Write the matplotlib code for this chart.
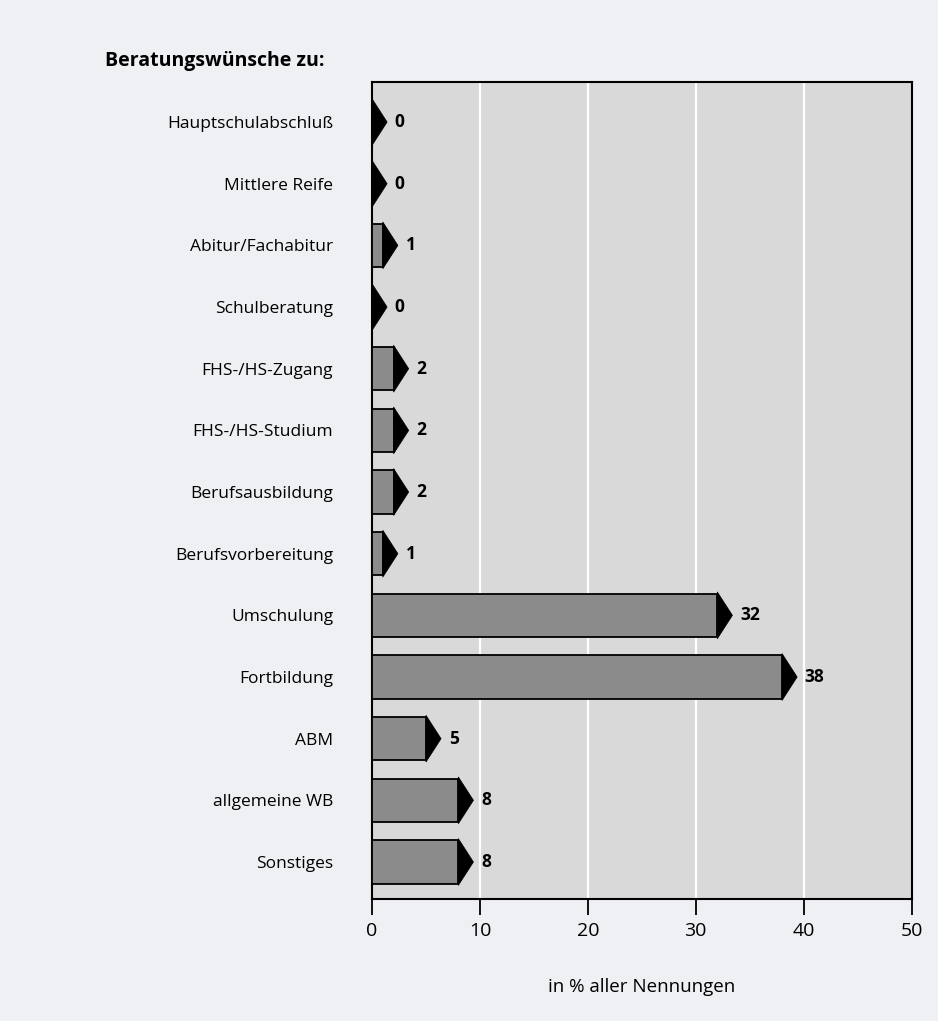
import matplotlib
matplotlib.use("Agg")
import matplotlib.pyplot as plt
from matplotlib.patches import Polygon

plt.rcParams["font.family"] = ["Open Sans", "DejaVu Sans"]

# Daten
kategorien = [
    "Hauptschulabschluß",
    "Mittlere Reife",
    "Abitur/Fachabitur",
    "Schulberatung",
    "FHS-/HS-Zugang",
    "FHS-/HS-Studium",
    "Berufsausbildung",
    "Berufsvorbereitung",
    "Umschulung",
    "Fortbildung",
    "ABM",
    "allgemeine WB",
    "Sonstiges",
]
werte = [0, 0, 1, 0, 2, 2, 2, 1, 32, 38, 5, 8, 8]
x_ticks = [0, 10, 20, 30, 40, 50]

fig = plt.figure(figsize=(9.38, 10.21), dpi=100)
fig.patch.set_facecolor("#eef0f4")

ax = fig.add_axes([0.3966, 0.1195, 0.5752, 0.8002])
ax.set_facecolor("#d9d9d9")

pos = list(range(len(kategorien)))
bar_h = 0.70
head_h = 0.76
head_len = 1.4

# Balken
ax.barh(pos, werte, height=bar_h, color="#8b8b8b", edgecolor="black",
        linewidth=1.3, zorder=3)

# Pfeilspitzen + Werte
for i, v in zip(pos, werte):
    tri = Polygon([(v, i - head_h / 2), (v + head_len, i), (v, i + head_h / 2)],
                  closed=True, facecolor="black", edgecolor="black",
                  linewidth=0.5, zorder=4)
    ax.add_patch(tri)
    ax.text(v + 2.1, i, str(v), va="center", ha="left", fontsize=12.5,
            fontweight="bold", zorder=5)

ax.set_xlim(0, 50)
ax.set_ylim(12.6, -0.65)
ax.set_xticks(x_ticks)
ax.set_yticks(pos)
ax.set_yticklabels(kategorien, fontsize=12.5)

# Gitter
for xv in x_ticks[1:-1]:
    ax.axvline(xv, color="white", linewidth=1.6, zorder=1)

for s in ax.spines.values():
    s.set_linewidth(1.5)
    s.set_color("black")

ax.tick_params(axis="y", length=0, pad=28)
ax.tick_params(axis="x", direction="out", length=11.5, width=1.3,
               pad=5, labelsize=14)

fig.text(105 / 938, 1 - 61 / 1021, "Beratungswünsche zu:", fontsize=14,
         fontweight="bold", ha="left", va="center")
fig.text(641.5 / 938, 1 - 987 / 1021, "in % aller Nennungen", fontsize=13.5,
         ha="center", va="center")

fig.savefig("out.png", dpi=100, facecolor=fig.get_facecolor())
